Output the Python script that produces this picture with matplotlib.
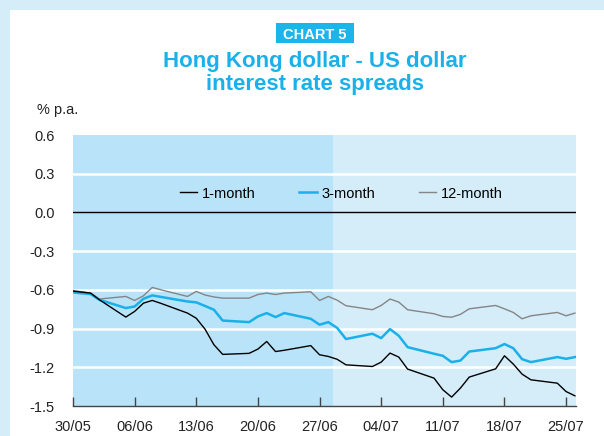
import pandas as pd
import matplotlib
matplotlib.use("Agg")
import matplotlib.pyplot as plt

plt.rcParams['font.family'] = ['Liberation Sans', 'DejaVu Sans']

# business days (2006)
dates = ["30/05", "01/06", "02/06", "05/06", "06/06", "07/06", "08/06", "09/06",
         "12/06", "13/06", "14/06", "15/06", "16/06", "19/06", "20/06", "21/06",
         "22/06", "23/06", "26/06", "27/06", "28/06", "29/06", "30/06", "03/07",
         "04/07", "05/07", "06/07", "07/07", "10/07", "11/07", "12/07", "13/07",
         "14/07", "17/07", "18/07", "19/07", "20/07", "21/07", "24/07", "25/07",
         "26/07"]

one_month = [-0.61, -0.625, -0.677, -0.811, -0.767, -0.703, -0.682, -0.705,
             -0.78, -0.82, -0.905, -1.025, -1.10, -1.092, -1.059, -1.00,
             -1.078, -1.068, -1.032, -1.103, -1.116, -1.138, -1.181, -1.194,
             -1.16, -1.09, -1.121, -1.214, -1.284, -1.374, -1.431, -1.361,
             -1.276, -1.212, -1.111, -1.175, -1.253, -1.297, -1.323, -1.388,
             -1.421]

three_month = [-0.62, -0.633, -0.677, -0.741, -0.729, -0.669, -0.643, -0.655,
               -0.69, -0.697, -0.725, -0.754, -0.838, -0.85, -0.806, -0.78,
               -0.811, -0.78, -0.824, -0.87, -0.85, -0.895, -0.981, -0.94,
               -0.974, -0.904, -0.956, -1.044, -1.095, -1.111, -1.16, -1.148,
               -1.078, -1.052, -1.02, -1.052, -1.137, -1.16, -1.121, -1.134,
               -1.121]

twelve_month = [-0.605, -0.625, -0.671, -0.651, -0.682, -0.646, -0.581, -0.60,
                -0.651, -0.612, -0.64, -0.655, -0.664, -0.664, -0.636, -0.625,
                -0.636, -0.625, -0.615, -0.682, -0.651, -0.68, -0.723, -0.754,
                -0.721, -0.671, -0.695, -0.754, -0.785, -0.806, -0.812, -0.79,
                -0.747, -0.721, -0.747, -0.775, -0.824, -0.801, -0.775, -0.801,
                -0.78]

tick_labels = ["30/05", "06/06", "13/06", "20/06", "27/06", "04/07", "11/07", "18/07", "25/07"]
y_ticks = [0.6, 0.3, 0.0, -0.3, -0.6, -0.9, -1.2, -1.5]

x = pd.to_datetime([d + "/2006" for d in dates], format="%d/%m/%Y")
xt = pd.to_datetime([d + "/2006" for d in tick_labels], format="%d/%m/%Y")

cyan = "#1ab0ea"
light_bg = "#d5ecf9"
dark_bg = "#b8e3f8"

W, H = 604, 436
fig = plt.figure(figsize=(6.04, 4.36), dpi=100)
fig.patch.set_facecolor(light_bg)
# white panel behind everything
fig.add_artist(plt.Rectangle((10 / W, 0), 1, 1 - 10 / H, transform=fig.transFigure,
                             facecolor="white", edgecolor="none", zorder=-5))
# "CHART 5" tag box
fig.add_artist(plt.Rectangle((276 / W, 1 - 43 / H), 78 / W, 20 / H, transform=fig.transFigure,
                             facecolor="#1bb5ea", edgecolor="none", zorder=1))

ax = fig.add_axes([73 / W, 30 / H, 503 / W, 271 / H])
ax.set_facecolor(light_bg)
ax.axvspan(pd.Timestamp("2006-05-29"), pd.Timestamp("2006-06-28 12:00"), color=dark_bg, lw=0, zorder=0)

for yv in [0.3, -0.3, -0.6, -0.9, -1.2]:
    ax.axhline(yv, color="white", lw=1.8, zorder=1)
ax.axhline(0, color="black", lw=1.0, zorder=2)

ax.plot(x, twelve_month, color="#858585", lw=1.0, label="12-month", zorder=3)
ax.plot(x, three_month, color=cyan, lw=1.8, label="3-month", zorder=4)
ax.plot(x, one_month, color="black", lw=1.0, label="1-month", zorder=5)

ax.set_xlim(pd.Timestamp("2006-05-30"), pd.Timestamp("2006-07-26 03:00"))
ax.set_ylim(-1.5, 0.6)
ax.set_yticks(y_ticks)
ax.set_yticklabels([f"{v:.1f}" for v in y_ticks])
ax.set_xticks(xt)
ax.set_xticklabels(tick_labels)

for s in ["top", "right", "left"]:
    ax.spines[s].set_visible(False)
ax.spines["bottom"].set_color("#444444")
ax.spines["bottom"].set_linewidth(1.0)
ax.tick_params(axis="x", direction="in", length=6.5, width=1.0, color="#444444",
               labelsize=10.5, pad=10, labelcolor="#222222")
ax.tick_params(axis="y", length=0, labelsize=10.5, pad=13, labelcolor="#222222")

h, l = ax.get_legend_handles_labels()
order = [2, 1, 0]
ax.legend([h[i] for i in order], [l[i] for i in order], ncol=3, frameon=False,
          loc="center", bbox_to_anchor=(0.533, 0.784), fontsize=10.5,
          handlelength=1.2, handletextpad=0.3, columnspacing=3.0)

# titles
fig.text(315 / W, 1 - 39 / H, "CHART 5", ha="center", va="baseline", color="white",
         fontsize=10.5, fontweight="bold", zorder=2)
fig.text(315 / W, 1 - 67 / H, "Hong Kong dollar - US dollar", ha="center", va="baseline",
         color=cyan, fontsize=16, fontweight="bold")
fig.text(315 / W, 1 - 90 / H, "interest rate spreads", ha="center", va="baseline",
         color=cyan, fontsize=16, fontweight="bold")
fig.text(37 / W, 1 - 110 / H, "% p.a.", ha="left", va="center", color="#222222", fontsize=10.5)

fig.savefig("out.png", dpi=100, facecolor=fig.get_facecolor())
